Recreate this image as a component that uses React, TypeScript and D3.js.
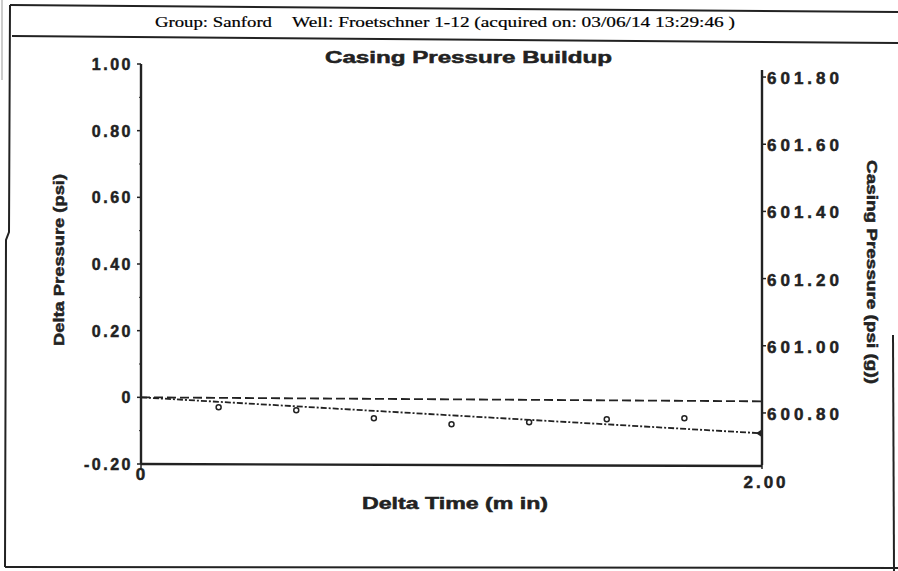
import React, { useEffect, useRef } from "react";
import * as d3 from "d3";

// readings
const timeMin = [0.25, 0.5, 0.75, 1.0, 1.25, 1.5, 1.75];
const deltaPsi = [-0.03, -0.039, -0.063, -0.081, -0.075, -0.066, -0.063];
const fitTime = [0, 2];
const fitDelta = [0, -0.108];
const refTime = [0, 2];
const refDelta = [0, -0.012];

const leftTicks = [-0.2, 0, 0.2, 0.4, 0.6, 0.8, 1.0];
const leftMinor = [-0.1, 0.1, 0.3, 0.5, 0.7, 0.9];
const rightTicks = [600.8, 601.0, 601.2, 601.4, 601.6, 601.8];
const xTicks = [0, 2];
const leftDomain = [-0.2, 1.0];
const rightDomain = [600.648, 601.821];
const xDomain = [0, 2];

const W = 898;
const H = 571;
const bold = "'Liberation Sans', Arial, sans-serif";
const serif = "'Liberation Serif', 'Times New Roman', serif";
const ink = "#222";

export default function App() {
  const ref = useRef<SVGSVGElement>(null);

  useEffect(() => {
    const svg = d3.select(ref.current);
    svg.selectAll("*").remove();

    const x = d3.scaleLinear().domain(xDomain).range([141, 762]);
    const yL = d3.scaleLinear().domain(leftDomain).range([464, 64]);
    const yR = d3.scaleLinear().domain(rightDomain).range([464, 70]);

    // page frame (scanned sheet)
    const frame = svg.append("g").attr("stroke", ink).attr("fill", "none");
    frame.append("path").attr("d", "M10,5 L898,12").attr("stroke-width", 2);
    frame.append("path").attr("d", "M12,36 L898,43").attr("stroke-width", 2);
    frame.append("path").attr("d", "M10,5 L9,232 L6,240 L5,567").attr("stroke-width", 2);
    frame.append("path").attr("d", "M2,0 L2,80").attr("stroke-width", 1).attr("stroke", "#999");
    frame.append("path").attr("d", "M5,567 L898,568").attr("stroke-width", 2);
    frame.append("path").attr("d", "M893,335 L894,571").attr("stroke-width", 2);

    svg.append("text")
      .attr("x", 155).attr("y", 27)
      .attr("font-family", serif).attr("font-size", 15)
      .attr("stroke", "#000").attr("stroke-width", 0.2)
      .attr("textLength", 117).attr("lengthAdjust", "spacingAndGlyphs")
      .text("Group: Sanford");
    svg.append("text")
      .attr("x", 292).attr("y", 27)
      .attr("font-family", serif).attr("font-size", 15)
      .attr("stroke", "#000").attr("stroke-width", 0.2)
      .attr("textLength", 443).attr("lengthAdjust", "spacingAndGlyphs")
      .text("Well: Froetschner  1-12 (acquired on: 03/06/14 13:29:46 )");

    const heavy = (t: any) =>
      t.attr("font-family", bold).attr("font-weight", "bold")
        .attr("fill", ink).attr("stroke", ink).attr("stroke-width", 0.5);

    heavy(svg.append("text")
      .attr("x", 325).attr("y", 63)
      .attr("font-size", 16)
      .attr("textLength", 287).attr("lengthAdjust", "spacingAndGlyphs")
      .text("Casing Pressure Buildup"));

    const ax = svg.append("g").attr("stroke", ink).attr("stroke-width", 2.4).attr("fill", "none");
    ax.append("line").attr("x1", 141).attr("x2", 141).attr("y1", yL(1.0)).attr("y2", yL(-0.2));
    ax.append("line").attr("x1", 762).attr("x2", 762).attr("y1", 70).attr("y2", 465);
    ax.append("line").attr("x1", 141).attr("x2", 762).attr("y1", 464).attr("y2", 466);

    // left axis
    const left = svg.append("g");
    left.selectAll("line.major").data(leftTicks).join("line")
      .attr("x1", 137).attr("x2", 141)
      .attr("y1", (d) => yL(d)).attr("y2", (d) => yL(d))
      .attr("stroke", ink).attr("stroke-width", 1.5);
    left.selectAll("line.minor").data(leftMinor).join("line")
      .attr("x1", 139).attr("x2", 141)
      .attr("y1", (d) => yL(d)).attr("y2", (d) => yL(d))
      .attr("stroke", ink).attr("stroke-width", 1);
    heavy(left.selectAll("text").data(leftTicks).join("text")
      .attr("x", 133).attr("y", (d) => yL(d) + 6)
      .attr("text-anchor", "end")
      .attr("font-size", 16)
      .attr("letter-spacing", 2.5)
      .text((d) => (d === 0 ? "0" : d.toFixed(2))));

    // right axis
    const right = svg.append("g");
    right.selectAll("line").data(rightTicks).join("line")
      .attr("x1", 762).attr("x2", 766)
      .attr("y1", (d) => yR(d)).attr("y2", (d) => yR(d))
      .attr("stroke", ink).attr("stroke-width", 1.5);
    heavy(right.selectAll("text").data(rightTicks).join("text")
      .attr("x", 767).attr("y", (d) => yR(d) + 7)
      .attr("font-size", 17)
      .attr("letter-spacing", 4)
      .text((d) => d.toFixed(2)));

    // x axis
    const bottom = svg.append("g");
    bottom.selectAll("line").data(xTicks).join("line")
      .attr("x1", (d) => x(d)).attr("x2", (d) => x(d))
      .attr("y1", 464).attr("y2", 469)
      .attr("stroke", ink).attr("stroke-width", 1.5);
    heavy(bottom.selectAll("text").data(xTicks).join("text")
      .attr("x", (d) => x(d) + (d === 0 ? 1 : 4)).attr("y", (d) => (d === 0 ? 480 : 488))
      .attr("text-anchor", "middle")
      .attr("font-size", 17)
      .attr("letter-spacing", 3)
      .text((d) => (d === 0 ? "0" : d.toFixed(2))));

    heavy(svg.append("text")
      .attr("x", 455).attr("y", 509).attr("text-anchor", "middle")
      .attr("font-size", 16)
      .attr("textLength", 186).attr("lengthAdjust", "spacingAndGlyphs")
      .text("Delta Time (m in)"));

    heavy(svg.append("text")
      .attr("transform", "translate(64,260) rotate(-90)")
      .attr("text-anchor", "middle")
      .attr("font-size", 15)
      .attr("textLength", 172).attr("lengthAdjust", "spacingAndGlyphs")
      .text("Delta Pressure (psi)"));

    heavy(svg.append("text")
      .attr("transform", "translate(867,272) rotate(90)")
      .attr("text-anchor", "middle")
      .attr("font-size", 15)
      .attr("textLength", 224).attr("lengthAdjust", "spacingAndGlyphs")
      .text("Casing Pressure (psi (g))"));

    // reference line at zero (long dash)
    const refLine = d3.line<number>().x((d, i) => x(refTime[i])).y((d) => yL(d));
    svg.append("path").datum(refDelta)
      .attr("d", refLine)
      .attr("fill", "none").attr("stroke", ink).attr("stroke-width", 1.8)
      .attr("stroke-dasharray", "9,4");

    // fit line (dash-dot)
    const fitLine = d3.line<number>().x((d, i) => x(fitTime[i])).y((d) => yL(d));
    svg.append("path").datum(fitDelta)
      .attr("d", fitLine)
      .attr("fill", "none").attr("stroke", ink).attr("stroke-width", 1.8)
      .attr("stroke-dasharray", "6,2,2,2");
    const endX = x(fitTime[1]);
    const endY = yL(fitDelta[1]);
    svg.append("path")
      .attr("d", `M${endX},${endY - 4} L${endX - 6},${endY} L${endX},${endY + 4} Z`)
      .attr("fill", ink);

    // measured points
    svg.append("g").selectAll("circle").data(timeMin).join("circle")
      .attr("cx", (d) => x(d))
      .attr("cy", (d, i) => yL(deltaPsi[i]))
      .attr("r", 2.5)
      .attr("fill", "white").attr("stroke", ink).attr("stroke-width", 1.5);
  }, []);

  return (
    <div style={{ position: "absolute", left: 0, top: 0 }}>
      <svg ref={ref} width={W} height={H} style={{ display: "block", background: "white" }} />
    </div>
  );
}
